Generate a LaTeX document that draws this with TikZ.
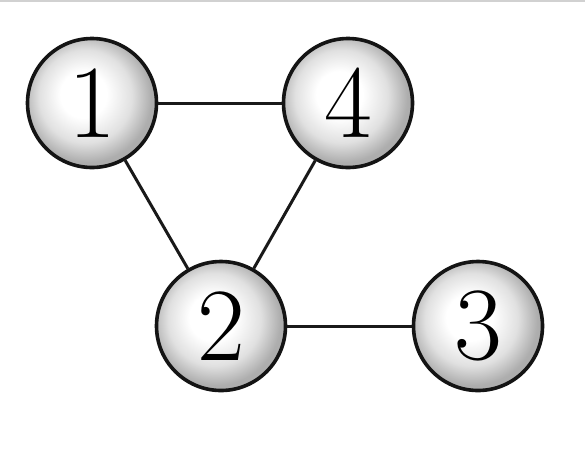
\documentclass[tikz,border=0pt]{standalone}
\pgfdeclareradialshading{lightball}{\pgfpoint{-4bp}{4bp}}{color(0bp)=(white); color(9bp)=(white); color(18bp)=(black!12); color(25bp)=(black!32); color(50bp)=(black!32)}
\begin{document}
\begin{tikzpicture}[x=1pt,y=-1pt,
  vert/.style={circle,draw=black!92,line width=3.6pt,minimum size=129pt,inner sep=0pt,
    shading=lightball,font=\fontsize{104}{104}\selectfont},
  edge/.style={line width=3pt,draw=black!90}]
\useasboundingbox (0,0) rectangle (585,451);
\fill[black!18] (0,0) rectangle (585,2);
\node[vert] (n1) at (92,103) {1};
\node[vert] (n4) at (348,103) {4};
\node[vert] (n2) at (221,326) {2};
\node[vert] (n3) at (478,326) {3};
\draw[edge] (n1) -- (n4);
\draw[edge] (n1) -- (n2);
\draw[edge] (n4) -- (n2);
\draw[edge] (n2) -- (n3);
\end{tikzpicture}
\end{document}
